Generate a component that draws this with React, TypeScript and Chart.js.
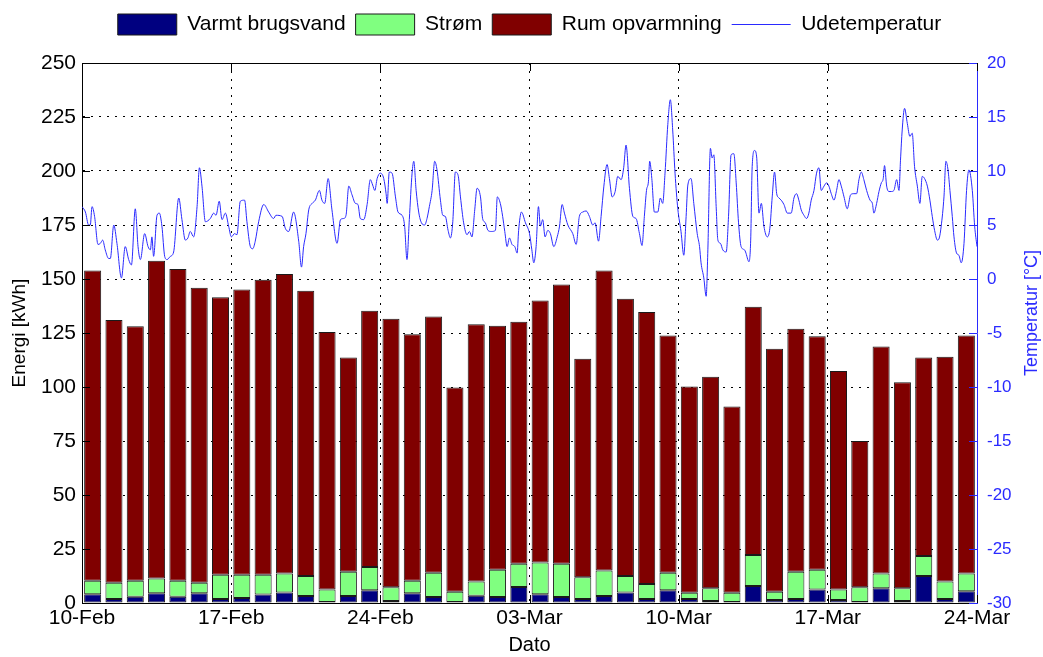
import React, { useEffect, useRef } from "react";
import { Chart, registerables } from "chart.js";

Chart.register(...registerables);

// Days are counted from 10-Feb (one bar per day)
const xTickLabels = ["10-Feb", "17-Feb", "24-Feb", "03-Mar", "10-Mar", "17-Mar", "24-Mar"];
const seriesNames = ["Varmt brugsvand", "Strøm", "Rum opvarmning", "Udetemperatur"];

const varmtBrugsvand = [4.0, 1.9, 2.9, 4.5, 2.9, 4.5, 1.9, 2.3, 3.9, 4.9, 3.2, 0.5, 3.2, 5.9, 0.9, 4.5, 2.8, 0.5, 3.3, 2.8, 7.4, 4.0, 2.8, 1.9, 3.2, 4.9, 1.9, 5.9, 1.9, 0.9, 0.5, 7.9, 1.4, 1.9, 6.3, 1.4, 0.5, 6.8, 0.9, 12.5, 1.9, 5.4];
const stroem = [6.3, 7.5, 7.4, 6.9, 7.4, 4.9, 11.2, 10.8, 9.2, 8.7, 9.3, 5.7, 11.3, 10.8, 6.4, 5.8, 11.2, 4.7, 6.6, 12.6, 10.8, 14.7, 15.4, 10.0, 11.9, 7.6, 6.9, 8.1, 2.9, 5.9, 4.3, 14.3, 3.8, 12.6, 9.1, 4.8, 6.8, 6.8, 5.9, 9.3, 8.0, 8.2];
const rumOpvarmning = [143.6, 121.6, 117.8, 147.1, 144.3, 136.6, 128.4, 132.0, 136.6, 138.7, 132.1, 119.3, 99.1, 118.6, 124.3, 114.1, 118.6, 94.6, 119.1, 113.0, 112.0, 121.3, 129.3, 101.2, 138.8, 128.4, 125.9, 109.9, 95.4, 98.0, 86.2, 115.0, 112.5, 112.5, 108.1, 101.2, 67.7, 105.1, 95.4, 91.8, 104.1, 110.3];

const tempTime = [
  0.00, 0.16, 0.31, 0.39, 0.47, 0.59, 0.75, 0.86, 0.97, 1.09, 1.25, 1.33, 1.49, 1.64, 1.85, 2.03, 2.19, 2.32, 2.50, 2.63,
  2.74, 2.94, 3.10, 3.21, 3.28, 3.36, 3.52, 3.63, 3.75, 3.88, 3.99, 4.15, 4.30, 4.54, 4.69, 4.85, 4.97, 5.08, 5.24, 5.40,
  5.51, 5.63, 5.79, 6.02, 6.18, 6.29, 6.44, 6.57, 6.73, 6.88, 7.01, 7.16, 7.27, 7.43, 7.63, 7.74, 7.90, 8.01, 8.13, 8.29,
  8.53, 8.76, 8.99, 9.10, 9.39, 9.54, 9.70, 9.93,
  10.17, 10.30, 10.40, 10.51, 10.64, 10.80, 10.95, 11.14, 11.26, 11.39, 11.55, 11.73, 11.97, 12.13, 12.28, 12.39, 12.52, 12.67, 12.83, 12.95,
  13.06, 13.22, 13.38, 13.53, 13.64, 13.74, 13.85, 14.00, 14.16, 14.27, 14.32, 14.42, 14.55, 14.71, 14.83, 15.02, 15.14, 15.25, 15.36, 15.49,
  15.57, 15.68, 15.80, 15.93, 16.08, 16.19, 16.30, 16.43, 16.55, 16.66, 16.82, 16.93, 17.05, 17.18, 17.29, 17.40, 17.52, 17.65, 17.76, 17.91,
  18.07, 18.18, 18.30, 18.43, 18.54, 18.70, 18.80, 18.93, 19.05, 19.21, 19.40, 19.49, 19.63, 19.74, 19.84, 19.95, 20.06, 20.18, 20.31, 20.42,
  20.49, 20.62, 20.81,
  21.00, 21.11, 21.20, 21.31, 21.42, 21.51, 21.62, 21.73, 21.86, 21.98, 22.14, 22.30, 22.41, 22.53, 22.64, 22.80, 23.03, 23.19, 23.34, 23.50,
  23.66, 23.81, 23.97, 24.08, 24.24, 24.36, 24.49, 24.64, 24.75, 24.88, 25.02, 25.14, 25.30, 25.42, 25.53, 25.69, 25.85, 26.00, 26.16, 26.28,
  26.39, 26.49, 26.58, 26.64, 26.74, 26.86, 27.02, 27.14, 27.25, 27.36, 27.49, 27.61, 27.72, 27.83, 27.96, 28.11, 28.24, 28.35, 28.43, 28.58,
  28.71, 28.87, 28.98, 29.05, 29.18, 29.29, 29.37, 29.49, 29.57, 29.65, 29.76, 29.84, 29.96, 30.07, 30.23, 30.34, 30.46, 30.59, 30.70, 30.81,
  30.93, 31.09,
  31.14, 31.30, 31.38, 31.45, 31.56, 31.66, 31.77, 31.88, 32.00, 32.16, 32.28, 32.39, 32.50, 32.60, 32.71, 32.81, 32.94, 33.10, 33.28, 33.41,
  33.53, 33.64, 33.75, 33.88, 34.00, 34.11, 34.22, 34.35, 34.47, 34.58, 34.69, 34.82, 34.94, 35.05, 35.16, 35.29, 35.41, 35.52, 35.63, 35.76,
  35.91, 36.07, 36.22, 36.35, 36.46, 36.57, 36.69, 36.82, 36.98, 37.09, 37.16, 37.29, 37.40, 37.51, 37.60, 37.66, 37.76, 37.87, 37.98, 38.10,
  38.23, 38.34, 38.41, 38.49, 38.60, 38.73, 38.85, 38.96, 39.07, 39.20, 39.32, 39.43, 39.54, 39.67, 39.79, 39.90, 40.01, 40.14, 40.23, 40.32,
  40.45, 40.54, 40.64, 40.73, 40.84, 40.92, 41.04, 41.15, 41.26, 41.39, 41.51, 41.62, 41.78, 41.89, 42.00,
];
const tempC = [
  6.7, 6.2, 5.0, 5.0, 6.7, 5.8, 3.2, 3.3, 3.6, 2.7, 1.9, 1.9, 5.0, 3.3, 0.1, 3.0, 1.8, 1.3, 6.5, 3.0,
  1.8, 4.2, 3.0, 2.7, 3.9, 2.1, 5.9, 6.1, 4.9, 2.1, 1.8, 2.1, 2.5, 7.5, 5.5, 3.6, 3.8, 4.4, 3.9, 6.7,
  10.3, 8.6, 5.3, 5.6, 6.1, 5.9, 7.2, 5.5, 6.1, 4.9, 3.9, 4.2, 4.1, 7.2, 7.3, 5.3, 3.0, 2.8, 3.5, 5.3,
  6.9, 6.2, 5.6, 5.9, 5.8, 4.7, 4.4, 6.2,
  3.5, 1.1, 3.0, 4.2, 6.4, 7.0, 7.3, 8.2, 7.3, 7.0, 9.3, 6.4, 3.3, 5.5, 5.6, 5.9, 8.6, 7.8, 7.0, 6.9,
  5.6, 5.5, 6.9, 9.2, 8.7, 8.2, 9.3, 9.8, 9.3, 7.9, 7.0, 9.9, 9.8, 7.6, 6.2, 5.9, 4.9, 1.8, 5.5, 9.8,
  10.9, 8.2, 6.2, 5.2, 5.0, 5.6, 6.7, 8.2, 10.9, 10.1, 7.3, 5.9, 5.8, 4.5, 3.8, 5.3, 9.9, 9.6, 7.6, 5.2,
  4.1, 4.4, 3.9, 6.4, 8.4, 7.6, 5.6, 5.2, 4.5, 4.4, 4.5, 7.6, 7.0, 5.8, 4.4, 3.0, 3.8, 3.2, 3.0, 2.4,
  4.5, 6.2, 5.2,
  4.2, 2.7, 1.5, 3.0, 6.7, 4.9, 5.5, 3.9, 4.5, 4.2, 3.0, 3.9, 4.9, 6.9, 6.1, 5.0, 4.2, 3.2, 5.8, 6.2,
  6.3, 5.8, 5.0, 5.2, 3.5, 5.8, 8.6, 10.6, 9.3, 7.6, 8.1, 9.5, 9.2, 10.3, 12.4, 8.4, 5.8, 5.6, 4.2, 3.1,
  5.8, 8.2, 9.0, 10.9, 9.3, 6.2, 6.2, 7.5, 7.0, 9.8, 14.3, 16.6, 13.8, 9.8, 6.5, 4.4, 2.2, 5.8, 8.7, 9.3,
  7.0, 4.2, 3.0, 1.5, 0.1, -1.6, 2.7, 12.1, 11.2, 11.5, 6.7, 3.6, 3.3, 2.7, 2.5, 5.8, 11.5, 11.6, 8.9, 5.2,
  3.0, 2.7,
  2.5, 1.6, 3.6, 10.4, 11.9, 11.3, 6.1, 7.0, 4.9, 3.9, 4.7, 7.6, 9.9, 7.9, 7.5, 7.3, 6.9, 6.1, 6.1, 7.5,
  7.9, 7.3, 6.4, 5.9, 5.6, 6.1, 7.3, 8.2, 9.8, 10.3, 8.2, 8.6, 8.9, 8.6, 7.9, 7.3, 8.2, 9.2, 8.6, 7.6,
  6.5, 7.8, 7.9, 7.9, 9.2, 9.9, 9.2, 8.2, 7.3, 7.0, 6.1, 7.0, 8.1, 8.9, 9.3, 10.5, 8.6, 8.1, 8.1, 8.2,
  9.2, 8.2, 11.0, 13.8, 15.8, 14.4, 13.2, 13.5, 10.4, 8.6, 7.0, 9.5, 9.3, 8.6, 7.3, 5.8, 4.5, 3.6, 3.8, 4.9,
  7.6, 10.9, 10.1, 8.2, 5.8, 3.9, 2.4, 2.2, 1.5, 3.3, 8.2, 10.1, 8.2, 4.9, 3.0,
];

const leftTitle = "Energi [kWh]";
const rightTitle = "Temperatur [°C]";
const bottomTitle = "Dato";

const FONT = "'Liberation Sans', Arial, sans-serif";
const BLUE = "#2a2aff";

const insideTicks = {
  id: "insideTicks",
  afterDraw(chart: any) {
    const { ctx, chartArea: a, scales } = chart;
    const L = 8;
    ctx.save();
    ctx.lineWidth = 1;
    ctx.setLineDash([]);
    ctx.strokeStyle = "#000";
    ctx.beginPath();
    scales.y.ticks.forEach((t: any) => {
      const py = Math.round(scales.y.getPixelForValue(t.value)) + 0.5;
      ctx.moveTo(a.left, py);
      ctx.lineTo(a.left + L, py);
    });
    scales.x.ticks.forEach((t: any) => {
      const px = Math.round(scales.x.getPixelForValue(t.value)) + 0.5;
      ctx.moveTo(px, a.bottom);
      ctx.lineTo(px, a.bottom - L);
      ctx.moveTo(px, a.top);
      ctx.lineTo(px, a.top + L);
    });
    ctx.stroke();
    ctx.strokeStyle = BLUE;
    ctx.beginPath();
    scales.y1.ticks.forEach((t: any) => {
      const py = Math.round(scales.y1.getPixelForValue(t.value)) + 0.5;
      ctx.moveTo(a.right, py);
      ctx.lineTo(a.right - L, py);
    });
    ctx.stroke();
    ctx.translate(a.right + 55, (a.top + a.bottom) / 2 - 20);
    ctx.rotate(-Math.PI / 2);
    ctx.font = `18px ${FONT}`;
    ctx.fillStyle = BLUE;
    ctx.textAlign = "center";
    ctx.textBaseline = "middle";
    ctx.fillText(rightTitle, 0, 0);
    ctx.restore();
  },
};

export default function App() {
  const ref = useRef<HTMLCanvasElement | null>(null);

  useEffect(() => {
    if (!ref.current) return;
    const toBars = (vals: number[]) => vals.map((v, i) => ({ x: i + 0.5, y: v }));
    const barCommon = {
      type: "bar" as const,
      borderColor: "#1a1a1a",
      borderWidth: 1,
      borderSkipped: false as const,
      barPercentage: 0.8,
      categoryPercentage: 1,
      xAxisID: "x",
      yAxisID: "y",
    };
    const gridDash = [2, 6];
    const chart = new Chart(ref.current, {
      type: "bar",
      data: {
        datasets: [
          { ...barCommon, label: seriesNames[0], data: toBars(varmtBrugsvand), backgroundColor: "#000080" },
          { ...barCommon, label: seriesNames[1], data: toBars(stroem), backgroundColor: "#80ff80" },
          { ...barCommon, label: seriesNames[2], data: toBars(rumOpvarmning), backgroundColor: "#800000" },
          {
            type: "line" as const,
            label: seriesNames[3],
            data: tempTime.map((t, i) => ({ x: t, y: tempC[i] })),
            borderColor: BLUE,
            backgroundColor: BLUE,
            borderWidth: 1,
            pointRadius: 0,
            cubicInterpolationMode: "monotone" as const,
            xAxisID: "x",
            yAxisID: "y1",
          } as any,
        ],
      },
      options: {
        responsive: false,
        animation: false,
        layout: { padding: { top: 4, left: 0, right: 0, bottom: 0 } },
        plugins: {
          tooltip: { enabled: false },
          legend: {
            position: "top",
            fullSize: false,
            labels: {
              color: "#000",
              font: { family: FONT, size: 21 },
              usePointStyle: true,
              pointStyleWidth: 59,
              boxHeight: 21,
              padding: 10,
              generateLabels: (c: any) =>
                Chart.defaults.plugins.legend.labels
                  .generateLabels(c)
                  .map((l: any, i: number) => ({
                    ...l,
                    pointStyle: i === 3 ? "line" : "rect",
                    lineWidth: 1,
                    strokeStyle: i === 3 ? BLUE : "#1a1a1a",
                  })),
            },
          },
        },
        scales: {
          x: {
            type: "linear",
            position: "bottom",
            min: 0,
            max: 42,
            offset: false,
            stacked: true,
            afterFit: (s: any) => { s.height = 54; },
            ticks: {
              stepSize: 7,
              autoSkip: false,
              maxRotation: 0,
              padding: 3,
              color: "#000",
              font: { family: FONT, size: 21 },
              callback: (v: any) => xTickLabels[Math.round(Number(v) / 7)] ?? "",
            },
            grid: { color: "#000", lineWidth: 1, drawTicks: false, offset: false },
            border: { display: true, color: "#000", width: 1, dash: gridDash },
            title: { display: true, text: bottomTitle, color: "#000", font: { family: FONT, size: 20 }, padding: { top: 0, bottom: 0 } },
          },
          xTop: {
            type: "linear",
            position: "top",
            display: true,
            offset: false,
            afterFit: (s: any) => { s.height = 18; },
            ticks: { display: false },
            grid: { display: false, drawTicks: false },
            border: { display: true, color: "#000", width: 1 },
          },
          y: {
            type: "linear",
            position: "left",
            min: 0,
            max: 250,
            stacked: true,
            afterFit: (s: any) => { s.width = 82; },
            ticks: { stepSize: 25, padding: 6, color: "#000", font: { family: FONT, size: 21 } },
            grid: { color: "#000", lineWidth: 1, drawTicks: false },
            border: { display: true, color: "#000", width: 1, dash: gridDash },
            title: { display: true, text: leftTitle, color: "#000", font: { family: FONT, size: 19 }, padding: { top: 8, bottom: 0 } },
          },
          y1: {
            type: "linear",
            position: "right",
            min: -30,
            max: 20,
            afterFit: (s: any) => { s.width = 66; },
            ticks: { stepSize: 5, padding: 10, color: BLUE, font: { family: FONT, size: 17 } },
            grid: { display: false, drawTicks: false },
            border: { display: true, color: BLUE, width: 1 },
          },
        },
      },
      plugins: [insideTicks],
    } as any);
    return () => chart.destroy();
  }, []);

  return (
    <div style={{ position: "fixed", left: 0, top: 0, width: 1043, height: 657, background: "#fff" }}>
      <canvas ref={ref} width={1043} height={657} />
    </div>
  );
}
